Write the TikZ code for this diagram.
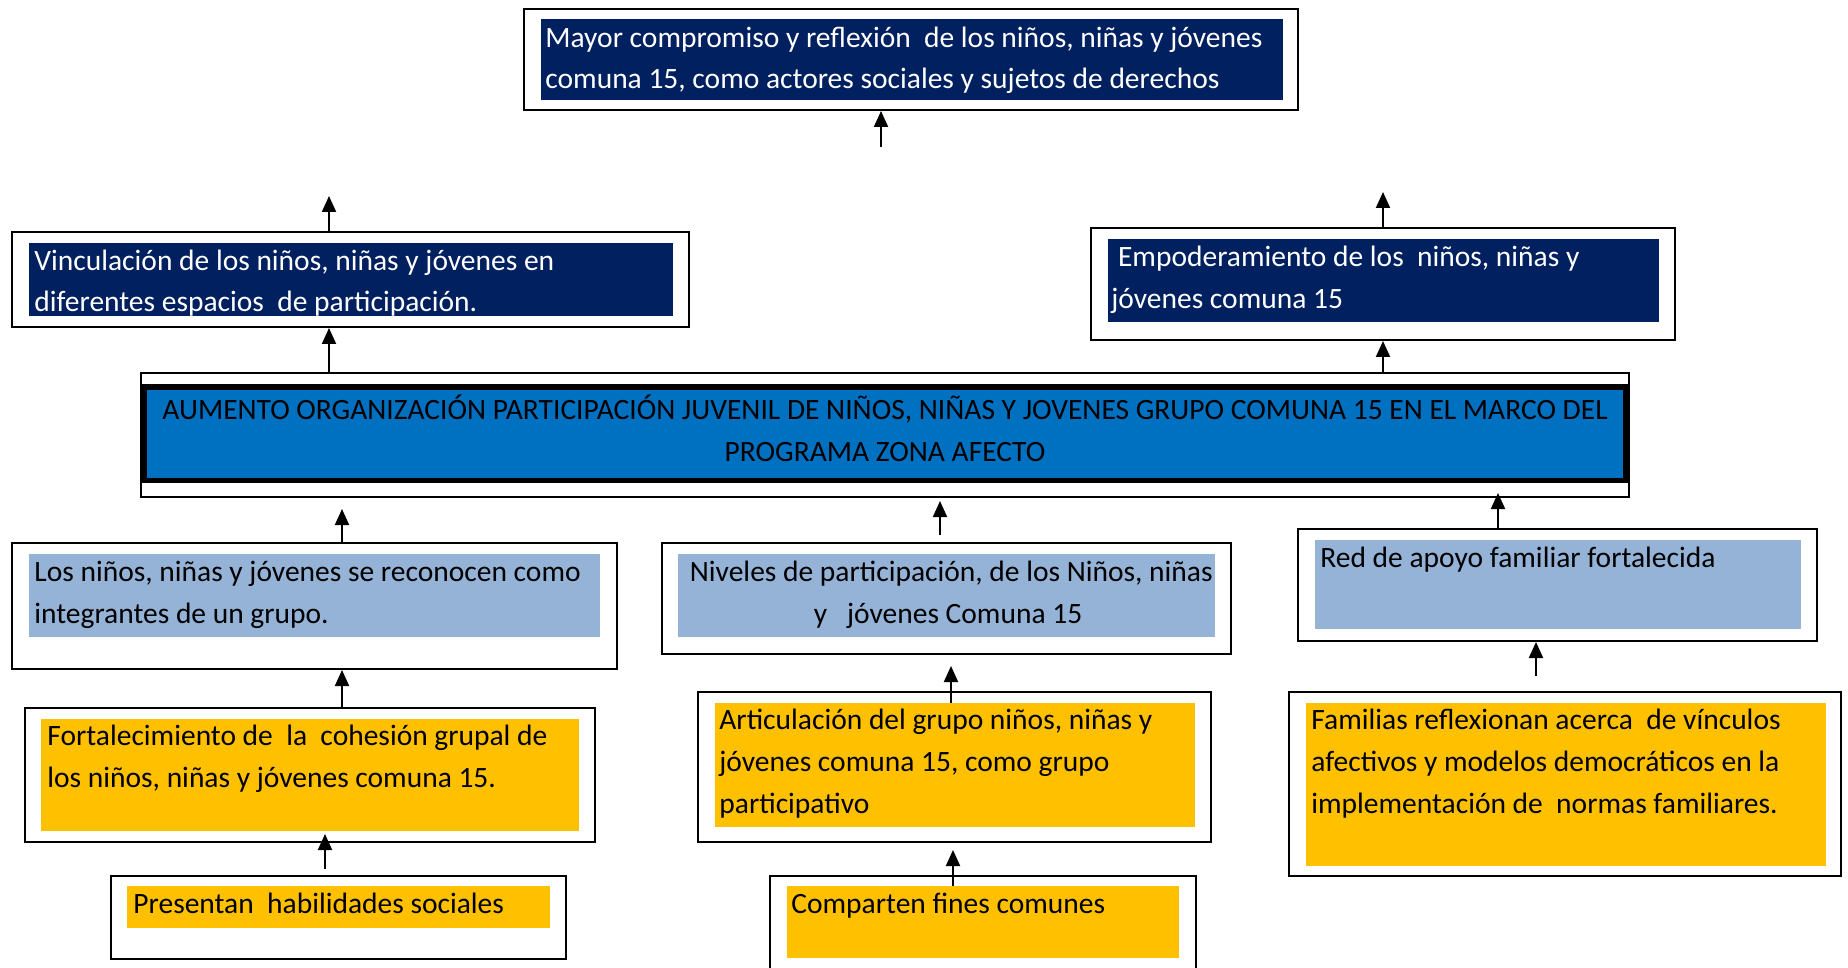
\documentclass[tikz,border=0pt]{standalone}
\usepackage{fontspec}
\setmainfont{Carlito}
\usetikzlibrary{fit,arrows.meta}
\definecolor{navy}{HTML}{002060}
\definecolor{mainblue}{HTML}{0070C0}
\definecolor{lightblue}{HTML}{95B3D7}
\definecolor{orangef}{HTML}{FFC000}
\begin{document}
\begin{tikzpicture}[x=0.5pt,y=-0.5pt,
  frame/.style={draw=black, line width=1pt, fill=white, inner sep=0pt},
  fillbox/.style={inner sep=0pt, draw=none},
  txt/.style={inner sep=0pt, anchor=base west, align=left, font=\fontsize{14.75}{20.8}\selectfont},
  arr/.style={line width=1pt, -{Triangle[length=8pt,width=7pt]}}]
\useasboundingbox (0,0) rectangle (1848,968);
\clip (0,0) rectangle (1848,968);
% column coordinates
\coordinate (X329) at (329,0);
\coordinate (X342) at (342,0);
\coordinate (X325) at (325,0);
\coordinate (X881) at (881,0);
\coordinate (X940) at (940,0);
\coordinate (X951) at (951,0);
\coordinate (X953) at (953,0);
\coordinate (X1383) at (1383,0);
\coordinate (X1498) at (1498,0);
\coordinate (X1536) at (1536,0);
\coordinate (t1) at (329,196);
\coordinate (t3) at (881,147);
\coordinate (t4) at (1383,192);

% top
\node[frame, fit={(524,9) (1298,110)}] (top) {};
\node[fillbox, fill=navy, fit={(541,19) (1283,100)}] (topf) {};
\node[txt, text=white] (topt) at (545,89) {Mayor compromiso y reflexión~ de los niños, niñas y jóvenes\\comuna 15, como actores sociales y sujetos de derechos};

% vinculacion
\node[frame, fit={(12,232) (689,327)}] (vinc) {};
\node[fillbox, fill=navy, fit={(29,243) (673,316)}] (vincf) {};
\node[txt, text=white] (vinct) at (34,312) {Vinculación de los niños, niñas y jóvenes en\\diferentes espacios~ de participación.};

% empoderamiento
\node[frame, fit={(1091,228) (1675,340)}] (emp) {};
\node[fillbox, fill=navy, fit={(1108,239) (1659,322)}] (empf) {};
\node[txt, text=white] (empt) at (1111,308) {\ Empoderamiento de los~ niños, niñas y\\jóvenes comuna 15};

% main
\node[frame, fit={(141,373) (1629,497)}] (main) {};
\node[fillbox, fill=black, fit={(141,384) (1629,483)}] (mainb) {};
\node[fillbox, fill=mainblue, fit={(147,390) (1623,478)}] (mainf) {};
\node[txt, anchor=base, align=center] (maint) at (885,461) {AUMENTO ORGANIZACIÓN PARTICIPACIÓN JUVENIL DE NIÑOS, NIÑAS Y JOVENES GRUPO COMUNA 15 EN EL MARCO DEL\\PROGRAMA ZONA AFECTO};

% los ninos
\node[frame, fit={(12,543) (617,669)}] (los) {};
\node[fillbox, fill=lightblue, fit={(29,554) (600,637)}] (losf) {};
\node[txt] (lost) at (34,623) {Los niños, niñas y jóvenes se reconocen como\\integrantes de un grupo.};

% niveles
\node[frame, fit={(662,543) (1231,654)}] (niv) {};
\node[fillbox, fill=lightblue, fit={(678,554) (1215,637)}] (nivf) {};
\node[txt, anchor=base, align=center] (nivt) at (948,623) {\ Niveles de participación, de los Niños, niñas\\y~~ jóvenes Comuna 15};

% red
\node[frame, fit={(1298,529) (1817,641)}] (red) {};
\node[fillbox, fill=lightblue, fit={(1315,540) (1801,629)}] (redf) {};
\node[txt] (redt) at (1320,567) {Red de apoyo familiar fortalecida};

% fortalecimiento
\node[frame, fit={(25,708) (595,842)}] (fort) {};
\node[fillbox, fill=orangef, fit={(41,719) (579,831)}] (fortf) {};
\node[txt] (fortt) at (47,787) {Fortalecimiento de~ la~ cohesión grupal de\\los niños, niñas y jóvenes comuna 15.};

% presentan
\node[frame, fit={(111,876) (566,959)}] (pres) {};
\node[fillbox, fill=orangef, fit={(127,886) (550,928)}] (presf) {};
\node[txt] (prest) at (133,913) {Presentan~ habilidades sociales};

% articulacion
\node[frame, fit={(698,692) (1211,842)}] (art) {};
\node[fillbox, fill=orangef, fit={(715,703) (1195,827)}] (artf) {};
\node[txt] (artt) at (719,813) {Articulación del grupo niños, niñas y\\jóvenes comuna 15, como grupo\\participativo};

% comparten
\node[frame, fit={(770,876) (1196,980)}] (comp) {};
\node[fillbox, fill=orangef, fit={(787,886) (1179,958)}] (compf) {};
\node[txt] (compt) at (791,913) {Comparten fines comunes};

% familias
\node[frame, fit={(1289,692) (1841,876)}] (fam) {};
\node[fillbox, fill=orangef, fit={(1306,703) (1826,866)}] (famf) {};
\node[txt] (famt) at (1311,813) {Familias reflexionan acerca~ de vínculos\\afectivos y modelos democráticos en la\\implementación de~ normas familiares.};

% arrows
\draw[arr] (vinc.north -| X329) -- (t1);
\draw[arr] (main.north -| X329) -- (vinc.south -| X329);
\draw[arr] (t3) -- (top.south -| X881);
\draw[arr] (emp.north -| X1383) -- (t4);
\draw[arr] (main.north -| X1383) -- (emp.south -| X1383);
\draw[arr, shorten >=5.5pt] (los.north -| X342) -- (main.south -| X342);
\draw[arr, shorten <=3.5pt, shorten >=1.5pt] (niv.north -| X940) -- (main.south -| X940);
\draw[arr, shorten >=-2.5pt] (red.north -| X1498) -- (main.south -| X1498);
\draw[arr, shorten <=7.5pt] (fam.north -| X1536) -- (red.south -| X1536);
\draw[arr] (fort.north -| X342) -- (los.south -| X342);
\draw[arr, shorten <=3pt, shorten >=-4.5pt] (pres.north -| X325) -- (fort.south -| X325);
\draw[arr, shorten >=5.5pt] (artf.north -| X951) -- (niv.south -| X951);
\draw[arr, shorten >=3.5pt] (compf.north -| X953) -- (art.south -| X953);
\end{tikzpicture}
\end{document}
